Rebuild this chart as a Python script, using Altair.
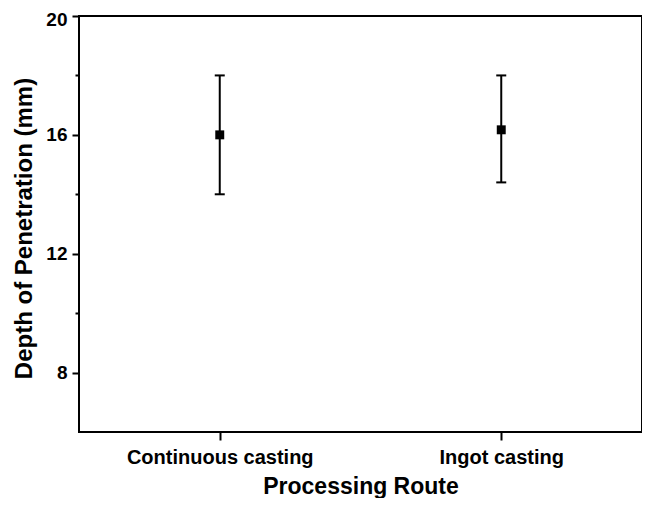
import altair as alt
import pandas as pd

routes = ["Continuous casting", "Ingot casting"]
means = [16.0, 16.17]
lower = [14.0, 14.4]
upper = [18.0, 18.0]

df = pd.DataFrame({"route": routes, "mean": means, "lower": lower, "upper": upper})

FONT = "Liberation Sans"

XAXIS = alt.Axis(
    title="Processing Route",
    labelAngle=0,
    labelLimit=0,
    domain=False,
    tickSize=8,
    tickWidth=2,
    tickColor="black",
    labelPadding=7,
    labelFontSize=20,
    labelFont=FONT,
    labelFontWeight="bold",
    labelColor="black",
    titleFontSize=23,
    titleFont=FONT,
    titleFontWeight="bold",
    titleColor="black",
    titleBaseline="alphabetic",
    titleY=61,
    grid=False,
)

X = alt.X(
    "route:N",
    sort=routes,
    scale=alt.Scale(type="point", padding=0.5),
    axis=XAXIS,
)

YSCALE = alt.Scale(domain=[6, 20], nice=False, zero=False)

YAXIS = alt.Axis(
    title="Depth of Penetration (mm)",
    values=[8, 10, 12, 14, 16, 18, 20],
    labelExpr="datum.value % 4 == 0 ? datum.label : ''",
    labelOffset={"condition": {"test": "datum.value == 20", "value": 3}, "value": 0},
    domain=False,
    grid=False,
    tickSize={"condition": {"test": "datum.value % 4 == 0", "value": 7}, "value": 4},
    tickWidth=2,
    tickColor="black",
    labelPadding=5,
    labelFontSize=19,
    labelFont=FONT,
    labelFontWeight="bold",
    labelColor="black",
    titleFontSize=24,
    titleFont=FONT,
    titleFontWeight="bold",
    titleColor="black",
    titlePadding=9,
    titleY=212,
)

base = alt.Chart(df)

rules = base.mark_rule(color="black", strokeWidth=2).encode(
    x=X,
    y=alt.Y("lower:Q", scale=YSCALE, axis=YAXIS),
    y2="upper:Q",
)

caps = base.transform_fold(["lower", "upper"], as_=["kind", "val"]).mark_tick(
    color="black", thickness=2, size=10, opacity=1
).encode(x=X, y=alt.Y("val:Q", scale=YSCALE, axis=YAXIS))

points = base.mark_square(size=80, color="black", opacity=1).encode(
    x=X, y=alt.Y("mean:Q", scale=YSCALE, axis=YAXIS)
)

chart = (
    alt.layer(rules, caps, points)
    .properties(
        width=563,
        height=416,
        autosize=alt.AutoSizeParams(type="none"),
        padding={"left": 71, "top": 8, "right": 0, "bottom": 66},
    )
    .configure(background="white", view=alt.ViewConfig(stroke="black", strokeWidth=2))
)

chart.save("out.html", embed_options={"renderer": "svg", "actions": False})
